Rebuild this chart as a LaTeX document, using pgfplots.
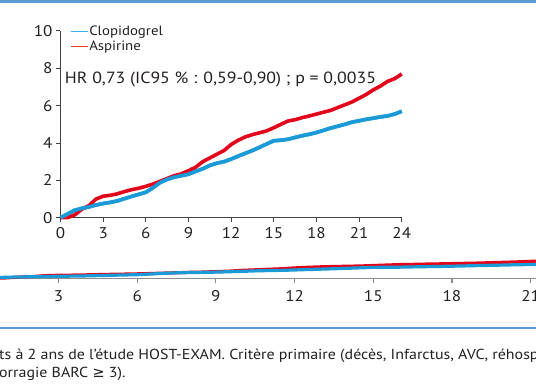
\documentclass[border=0pt]{standalone}
\usepackage{fontspec}
\setmainfont{PT Sans}[FakeStretch=1.1]
\newfontfamily\symfont{DejaVu Sans}
\usepackage{pgfplots}
\pgfplotsset{compat=1.18}
\usepackage{pgfplotstable}

\definecolor{clop}{HTML}{1B9AD8}
\definecolor{asp}{HTML}{E2061C}
\definecolor{clopleg}{HTML}{3DB3E3}
\definecolor{aspleg}{HTML}{E53935}
\definecolor{rulecol}{HTML}{5A9BD5}
\definecolor{axgrey}{HTML}{8C8C8C}
\definecolor{txt}{HTML}{231F20}

\pgfplotstableread{
m v
0 0
0.5 0
1 0.15
1.5 0.45
2 0.65
2.5 1.0
3 1.15
3.5 1.2
4 1.28
4.5 1.4
5 1.5
5.5 1.58
6 1.68
6.5 1.8
7 1.95
7.5 2.1
8 2.25
8.5 2.35
9 2.52
9.5 2.7
10 3.0
10.5 3.2
11 3.4
11.5 3.6
12 3.92
12.5 4.15
13 4.33
13.5 4.45
14 4.55
14.5 4.65
15 4.82
15.5 5.0
16 5.18
16.5 5.25
17 5.36
17.5 5.45
18 5.55
18.5 5.65
19 5.75
19.5 5.9
20 6.05
20.5 6.2
21 6.4
21.5 6.6
22 6.85
22.5 7.05
23 7.3
23.5 7.45
24 7.7
}\asptab

\pgfplotstableread{
m v
0 0
0.5 0.2
1 0.4
1.5 0.5
2 0.58
2.5 0.68
3 0.76
3.5 0.82
4 0.9
4.5 1.02
5 1.14
5.5 1.25
6 1.36
6.5 1.6
7 1.88
7.5 2.05
8 2.17
8.5 2.25
9 2.33
9.5 2.48
10 2.62
10.5 2.8
11 2.92
11.5 3.0
12 3.14
12.5 3.3
13 3.45
13.5 3.6
14 3.77
14.5 3.95
15 4.12
15.5 4.15
16 4.2
16.5 4.3
17 4.39
17.5 4.47
18 4.56
18.5 4.68
19 4.8
19.5 4.9
20 5.0
20.5 5.12
21 5.19
21.5 5.27
22 5.33
22.5 5.4
23 5.45
23.5 5.55
24 5.7
}\cloptab

\begin{document}
\begin{tikzpicture}
\useasboundingbox (0pt,0pt) rectangle (536pt,386pt);
\clip (0pt,0pt) rectangle (536pt,386pt);
% rules
\fill[rulecol] (0pt,383.4pt) rectangle (536pt,386pt);
\draw[black!6, line width=0.8pt] (0pt,63.3pt) -- (536pt,63.3pt);
\fill[rulecol] (0pt,56.7pt) rectangle (536pt,59.4pt);

% main (background) chart, mostly cropped
\begin{axis}[
  at={(-20.2pt,107.7pt)}, anchor=south west,
  x=26.23pt, y=2.65pt,
  xmin=0, xmax=24, ymin=0, ymax=100,
  axis x line=bottom, axis y line=none,
  axis line style={-, axgrey, line width=1.4pt},
  tick align=outside, major tick length=5pt,
  xtick={3,6,...,24},
  tick style={axgrey, line width=1.2pt},
  xticklabel style={font=\fontsize{15.5}{18}\selectfont, text=txt, yshift=-4pt},
  /pgf/number format/assume math mode=true,
  clip=false,
]
\addplot[asp, line width=3.2pt] table[x=m, y=v] {\asptab};
\addplot[clop, line width=3.2pt] table[x=m, y=v] {\cloptab};
\end{axis}

% inset chart
\begin{axis}[
  at={(60.5pt,168.3pt)}, anchor=south west,
  x=14.22pt, y=18.67pt,
  xmin=0, xmax=24, ymin=0, ymax=10,
  axis x line=bottom, axis y line=left,
  axis line style={-, txt!85, line width=1.2pt},
  tick align=outside, major tick length=4.5pt,
  xtick={0,3,...,24}, ytick={0,2,...,10},
  tick style={txt!85, line width=1pt},
  ticklabel style={font=\fontsize{15.5}{18}\selectfont, text=txt},
  xticklabel style={yshift=-2pt},
  /pgf/number format/assume math mode=true,
  clip=false,
  legend image code/.code={\draw[#1] (0pt,0pt) -- (17pt,0pt);},
  legend style={at={(rel axis cs:0.028,1.035)}, anchor=north west, draw=none, fill=none,
    font=\fontsize{13.5}{16}\selectfont, text=txt, inner sep=0pt, row sep=2.5pt,
    nodes={inner sep=1pt}},
  legend cell align=left,
]
\addplot[clop, line width=3.6pt, forget plot] table[x=m, y=v] {\cloptab};
\addplot[asp, line width=3.6pt, forget plot] table[x=m, y=v] {\asptab};
\addplot[clop, line width=3.6pt, forget plot] table[x=m, y=v] {\cloptab};
\addlegendimage{clopleg, line width=1pt}
\addlegendentry{Clopidogrel}
\addlegendimage{aspleg, line width=1pt}
\addlegendentry{Aspirine}
\node[anchor=west, inner sep=0pt, text=txt, font=\fontsize{16.2}{18}\selectfont] at (axis cs:0.3,7.4) {HR 0,73 (IC95 \% : 0,59-0,90) ; p = 0,0035};
\end{axis}

% caption (cropped)
\node[anchor=base west, inner sep=0pt, text=txt, font=\fontsize{14.5}{18}\selectfont] at (-1pt,27pt) {ts à 2 ans de l'étude HOST-EXAM. Critère primaire (décès, Infarctus, AVC, réhospitalisation,};
\node[anchor=base west, inner sep=0pt, text=txt, font=\fontsize{14.5}{18}\selectfont] at (-1pt,9pt) {orragie BARC {\symfont ≥} 3).};
\end{tikzpicture}
\end{document}
